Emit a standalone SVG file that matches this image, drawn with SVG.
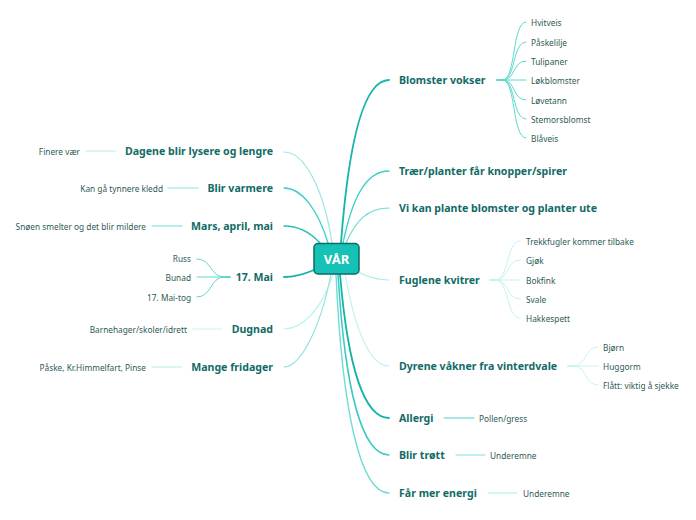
<svg xmlns="http://www.w3.org/2000/svg" width="696" height="520" viewBox="0 0 696 520">
<style>
.main{font-family:"Noto Sans","Open Sans",sans-serif;font-weight:bold;font-size:10.6px;fill:#116b66;dominant-baseline:central}
.sub{font-family:"Noto Sans","Open Sans",sans-serif;font-size:8.3px;fill:#2f5a57;dominant-baseline:central}
.c{fill:none;stroke-linecap:round}
</style>
<rect width="696" height="520" fill="#ffffff"/>
<g id="connectors" class="c">
<path d="M341,243 C348,150 362,80 389,80" stroke="#15b5aa" stroke-width="1.8"/>
<path d="M343,243 C352,200 365,171 389,171" stroke="#3fcfc5" stroke-width="1.3"/>
<path d="M346,243 C356,220 368,208 389,208" stroke="#6adcd4" stroke-width="1.2"/>
<path d="M358,272 C370,278 378,280 389,280" stroke="#a7ede8" stroke-width="1.2"/>
<path d="M345,274 C355,330 370,366 389,366" stroke="#bff3ef" stroke-width="1.2"/>
<path d="M340,274 C348,370 365,418 389,418" stroke="#14b3a8" stroke-width="1.8"/>
<path d="M338,274 C345,390 362,455 389,455" stroke="#3cc9bf" stroke-width="1.5"/>
<path d="M336,274 C342,410 360,493 389,493" stroke="#6fdcd4" stroke-width="1.4"/>
<path d="M332,243 C324,190 305,152 284,152" stroke="#9de8e3" stroke-width="1.2"/>
<path d="M328,243 C318,210 302,188 284,188" stroke="#3fcfc5" stroke-width="1.3"/>
<path d="M320,243 C310,232 298,226 284,226" stroke="#28c0b6" stroke-width="1.4"/>
<path d="M314,270 C300,276 292,277 284,277" stroke="#16b3a8" stroke-width="1.8"/>
<path d="M333,274 C322,310 302,329 284,329" stroke="#bff3ef" stroke-width="1.2"/>
<path d="M331,274 C320,330 300,367 284,367" stroke="#8fe4de" stroke-width="1.2"/>
<g stroke-width="1">
<path d="M86,151 H116" stroke="#b5eeea"/>
<path d="M168,188 H198" stroke="#8fe4de"/>
<path d="M152,226 H182" stroke="#6adcd4"/>
<path d="M193,329 H222" stroke="#c4f3f0"/>
<path d="M152,367 H182" stroke="#b5eeea"/>
<path d="M444,418 H474" stroke="#4fd1c8"/>
<path d="M456,455 H485" stroke="#7ee0d9"/>
<path d="M488,493 H517" stroke="#a7ede8"/>
</g>
<g stroke="#5fd8d0" stroke-width="1">
<path d="M222,277 H230" stroke-width="2"/>
<path d="M224,277 C210,277 212,259 197,259"/>
<path d="M224,277 H197"/>
<path d="M224,277 C210,277 212,297 197,297"/>
</g>
<g stroke="#5fd8d0" stroke-width="1">
<path d="M497,80 H505" stroke-width="2"/>
<path d="M503,80 C516,80 512,22 526,22"/>
<path d="M503,80 C516,80 512,42 526,42"/>
<path d="M503,80 C516,80 512,61 526,61"/>
<path d="M503,80 H526"/>
<path d="M503,80 C516,80 512,100 526,100"/>
<path d="M503,80 C516,80 512,119 526,119"/>
<path d="M503,80 C516,80 512,138 526,138"/>
</g>
<g stroke="#c4f3f0" stroke-width="1">
<path d="M490,280 H498" stroke-width="2"/>
<path d="M496,280 C509,280 506,241 520,241"/>
<path d="M496,280 C509,280 506,260 520,260"/>
<path d="M496,280 H520"/>
<path d="M496,280 C509,280 506,299 520,299"/>
<path d="M496,280 C509,280 506,318 520,318"/>
</g>
<g stroke="#c9f5f2" stroke-width="1">
<path d="M568,366 H576" stroke-width="2"/>
<path d="M574,366 C587,366 584,347 598,347"/>
<path d="M574,366 H598"/>
<path d="M574,366 C587,366 584,385 598,385"/>
</g>
</g>
<g id="center">
<rect x="314" y="243.5" width="45" height="30.5" rx="4" fill="#16c2b6" stroke="#0e6b66" stroke-width="1.5"/>
<text x="336.5" y="259" text-anchor="middle" style="font-family:'Noto Sans','Open Sans',sans-serif;font-weight:bold;font-size:13px;fill:#ffffff;dominant-baseline:central">VÅR</text>
</g>
<g id="n-blomster"><text class="main" x="399" y="80">Blomster vokser</text></g>
<g id="n-hvitveis"><text class="sub" x="531" y="22">Hvitveis</text></g>
<g id="n-paskelilje"><text class="sub" x="531" y="42">Påskelilje</text></g>
<g id="n-tulipaner"><text class="sub" x="531" y="61">Tulipaner</text></g>
<g id="n-lokblomster"><text class="sub" x="531" y="80">Løkblomster</text></g>
<g id="n-lovetann"><text class="sub" x="531" y="100">Løvetann</text></g>
<g id="n-stemorsblomst"><text class="sub" x="531" y="119">Stemorsblomst</text></g>
<g id="n-blaveis"><text class="sub" x="531" y="138">Blåveis</text></g>
<g id="n-traer"><text class="main" x="399" y="171">Trær/planter får knopper/spirer</text></g>
<g id="n-vikan"><text class="main" x="399" y="208">Vi kan plante blomster og planter ute</text></g>
<g id="n-fuglene"><text class="main" x="399" y="280">Fuglene kvitrer</text></g>
<g id="n-trekkfugler"><text class="sub" x="526" y="241">Trekkfugler kommer tilbake</text></g>
<g id="n-gjok"><text class="sub" x="526" y="260">Gjøk</text></g>
<g id="n-bokfink"><text class="sub" x="526" y="280">Bokfink</text></g>
<g id="n-svale"><text class="sub" x="526" y="299">Svale</text></g>
<g id="n-hakkespett"><text class="sub" x="526" y="318">Hakkespett</text></g>
<g id="n-dyrene"><text class="main" x="399" y="366">Dyrene våkner fra vinterdvale</text></g>
<g id="n-bjorn"><text class="sub" x="603" y="347">Bjørn</text></g>
<g id="n-huggorm"><text class="sub" x="603" y="366">Huggorm</text></g>
<g id="n-flatt"><text class="sub" x="603" y="385">Flått: viktig å sjekke</text></g>
<g id="n-allergi"><text class="main" x="399" y="418">Allergi</text></g>
<g id="n-pollen"><text class="sub" x="479" y="418">Pollen/gress</text></g>
<g id="n-trott"><text class="main" x="399" y="455">Blir trøtt</text></g>
<g id="n-underemne1"><text class="sub" x="490" y="455">Underemne</text></g>
<g id="n-energi"><text class="main" x="399" y="493">Får mer energi</text></g>
<g id="n-underemne2"><text class="sub" x="523" y="493">Underemne</text></g>
<g id="n-dagene"><text class="main" x="273" y="151" text-anchor="end">Dagene blir lysere og lengre</text></g>
<g id="n-finere"><text class="sub" x="80" y="151" text-anchor="end">Finere vær</text></g>
<g id="n-varmere"><text class="main" x="273" y="188" text-anchor="end">Blir varmere</text></g>
<g id="n-kanga"><text class="sub" x="163" y="188" text-anchor="end">Kan gå tynnere kledd</text></g>
<g id="n-mars"><text class="main" x="273" y="226" text-anchor="end">Mars, april, mai</text></g>
<g id="n-snoen"><text class="sub" x="146" y="226" text-anchor="end">Snøen smelter og det blir mildere</text></g>
<g id="n-17mai"><text class="main" x="273" y="277" text-anchor="end">17. Mai</text></g>
<g id="n-russ"><text class="sub" x="191" y="258" text-anchor="end">Russ</text></g>
<g id="n-bunad"><text class="sub" x="191" y="277" text-anchor="end">Bunad</text></g>
<g id="n-maitog"><text class="sub" x="191" y="297" text-anchor="end">17. Mai-tog</text></g>
<g id="n-dugnad"><text class="main" x="273" y="329" text-anchor="end">Dugnad</text></g>
<g id="n-barnehager"><text class="sub" x="187" y="329" text-anchor="end">Barnehager/skoler/idrett</text></g>
<g id="n-fridager"><text class="main" x="273" y="367" text-anchor="end">Mange fridager</text></g>
<g id="n-paske"><text class="sub" x="146" y="367" text-anchor="end">Påske, Kr.Himmelfart, Pinse</text></g>
</svg>
